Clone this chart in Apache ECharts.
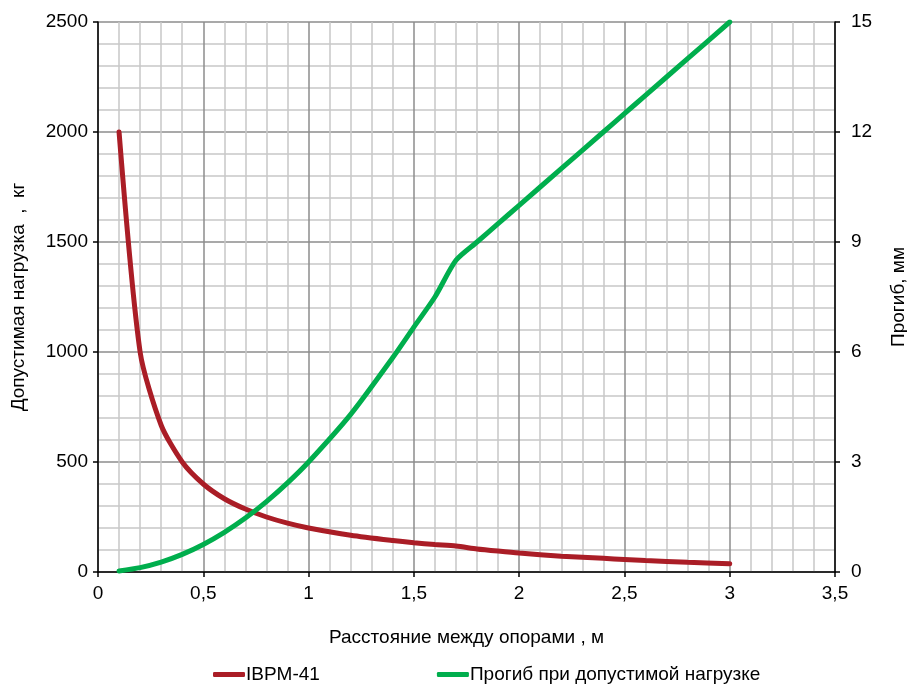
<!DOCTYPE html>
<html>
<head>
<meta charset="utf-8">
<script src="https://cdn.jsdelivr.net/npm/echarts@6/dist/echarts.min.js"></script>
<style>html,body{margin:0;padding:0;background:#fff}#c{width:907px;height:686px}</style>
</head>
<body>
<div id="c"></div>
<script>
// Distance between supports, m
const spans = [0.1, 0.2, 0.3, 0.4, 0.5, 0.6, 0.7, 0.8, 0.9, 1.0, 1.2, 1.4, 1.5, 1.6, 1.7, 1.8, 1.9, 2.0, 2.2, 2.4, 2.5, 2.6, 2.8, 3.0];
// Allowable load, kg (IBPM-41)
const loadKg = [2000, 1000, 667, 500, 400, 333, 286, 250, 222, 200, 167, 143, 133, 125, 118, 105, 95, 86, 72, 62, 57, 52, 44, 37];
// Deflection at allowable load, mm
const deflectionMm = [0.03, 0.12, 0.27, 0.48, 0.75, 1.08, 1.47, 1.92, 2.43, 3.0, 4.3, 5.85, 6.68, 7.5, 8.5, 9.0, 9.5, 10.0, 11.0, 12.0, 12.5, 13.0, 14.0, 15.0];
const seriesNames = ['IBPM-41', 'Прогиб при допустимой нагрузке'];

const FONT = 'Liberation Sans, Arial, sans-serif';
const FS = 19;
const chart = echarts.init(document.getElementById('c'));
const pair = (xs, ys) => xs.map((x, i) => [x, ys[i]]);
const comma = v => String(v).replace('.', ',');
const plain = v => String(v);

chart.setOption({
  animation: false,
  backgroundColor: '#fff',
  textStyle: { fontFamily: FONT },
  grid: { left: 98, right: 72, top: 22, bottom: 114, containLabel: false, outerBoundsMode: 'none' },
  legend: {
    top: 660, left: 208, itemGap: 117,
    icon: 'roundRect', itemWidth: 32, itemHeight: 5,
    textStyle: { fontFamily: FONT, fontSize: FS, color: '#000', padding: [0, 0, 0, -4] },
    data: seriesNames
  },
  xAxis: {
    type: 'value', min: 0, max: 3.5, interval: 0.5,
    name: 'Расстояние между опорами , м', nameLocation: 'middle', nameGap: 56,
    nameTextStyle: { fontFamily: FONT, fontSize: FS, color: '#000' },
    axisLine: { show: true, onZero: false, lineStyle: { color: '#000', width: 1.5 } },
    axisTick: { show: true, length: 5, lineStyle: { color: '#000', width: 1.5 } },
    axisLabel: { fontFamily: FONT, fontSize: FS, color: '#000', margin: 12, formatter: comma },
    splitLine: { show: true, lineStyle: { color: '#8c8c8c', width: 1.5 } },
    minorTick: { show: false, splitNumber: 5 },
    minorSplitLine: { show: true, lineStyle: { color: '#c8c8c8', width: 1.5 } }
  },
  yAxis: [
    {
      type: 'value', min: 0, max: 2500, interval: 500, position: 'left',
      name: 'Допустимая нагрузка  ,  кг', nameLocation: 'middle', nameGap: 70, nameRotate: 90,
      nameTextStyle: { fontFamily: FONT, fontSize: FS, color: '#000' },
      axisLine: { show: true, lineStyle: { color: '#000', width: 1.5 } },
      axisTick: { show: true, length: 5, lineStyle: { color: '#000', width: 1.5 } },
      axisLabel: { fontFamily: FONT, fontSize: FS, color: '#000', margin: 10, formatter: plain },
      splitLine: { show: true, lineStyle: { color: '#8c8c8c', width: 1.5 } },
      minorTick: { show: false, splitNumber: 5 },
      minorSplitLine: { show: true, lineStyle: { color: '#c8c8c8', width: 1.5 } }
    },
    {
      type: 'value', min: 0, max: 15, interval: 3, position: 'right',
      name: 'Прогиб, мм', nameLocation: 'middle', nameGap: 54, nameRotate: 90,
      nameTextStyle: { fontFamily: FONT, fontSize: FS, color: '#000' },
      axisLine: { show: true, lineStyle: { color: '#000', width: 1.5 } },
      axisTick: { show: true, length: 5, lineStyle: { color: '#000', width: 1.5 } },
      axisLabel: { fontFamily: FONT, fontSize: FS, color: '#000', margin: 16, formatter: plain },
      splitLine: { show: false }
    }
  ],
  series: [
    {
      name: seriesNames[0], type: 'line', yAxisIndex: 0,
      data: pair(spans, loadKg), showSymbol: false, smooth: 0.25,
      lineStyle: { color: '#AA1D26', width: 5, cap: 'round' }, itemStyle: { color: '#AA1D26' }, z: 3
    },
    {
      name: seriesNames[1], type: 'line', yAxisIndex: 1,
      data: pair(spans, deflectionMm), showSymbol: false, smooth: 0.25,
      lineStyle: { color: '#00AE4D', width: 5, cap: 'round' }, itemStyle: { color: '#00AE4D' }, z: 4
    }
  ]
});
</script>
</body>
</html>
